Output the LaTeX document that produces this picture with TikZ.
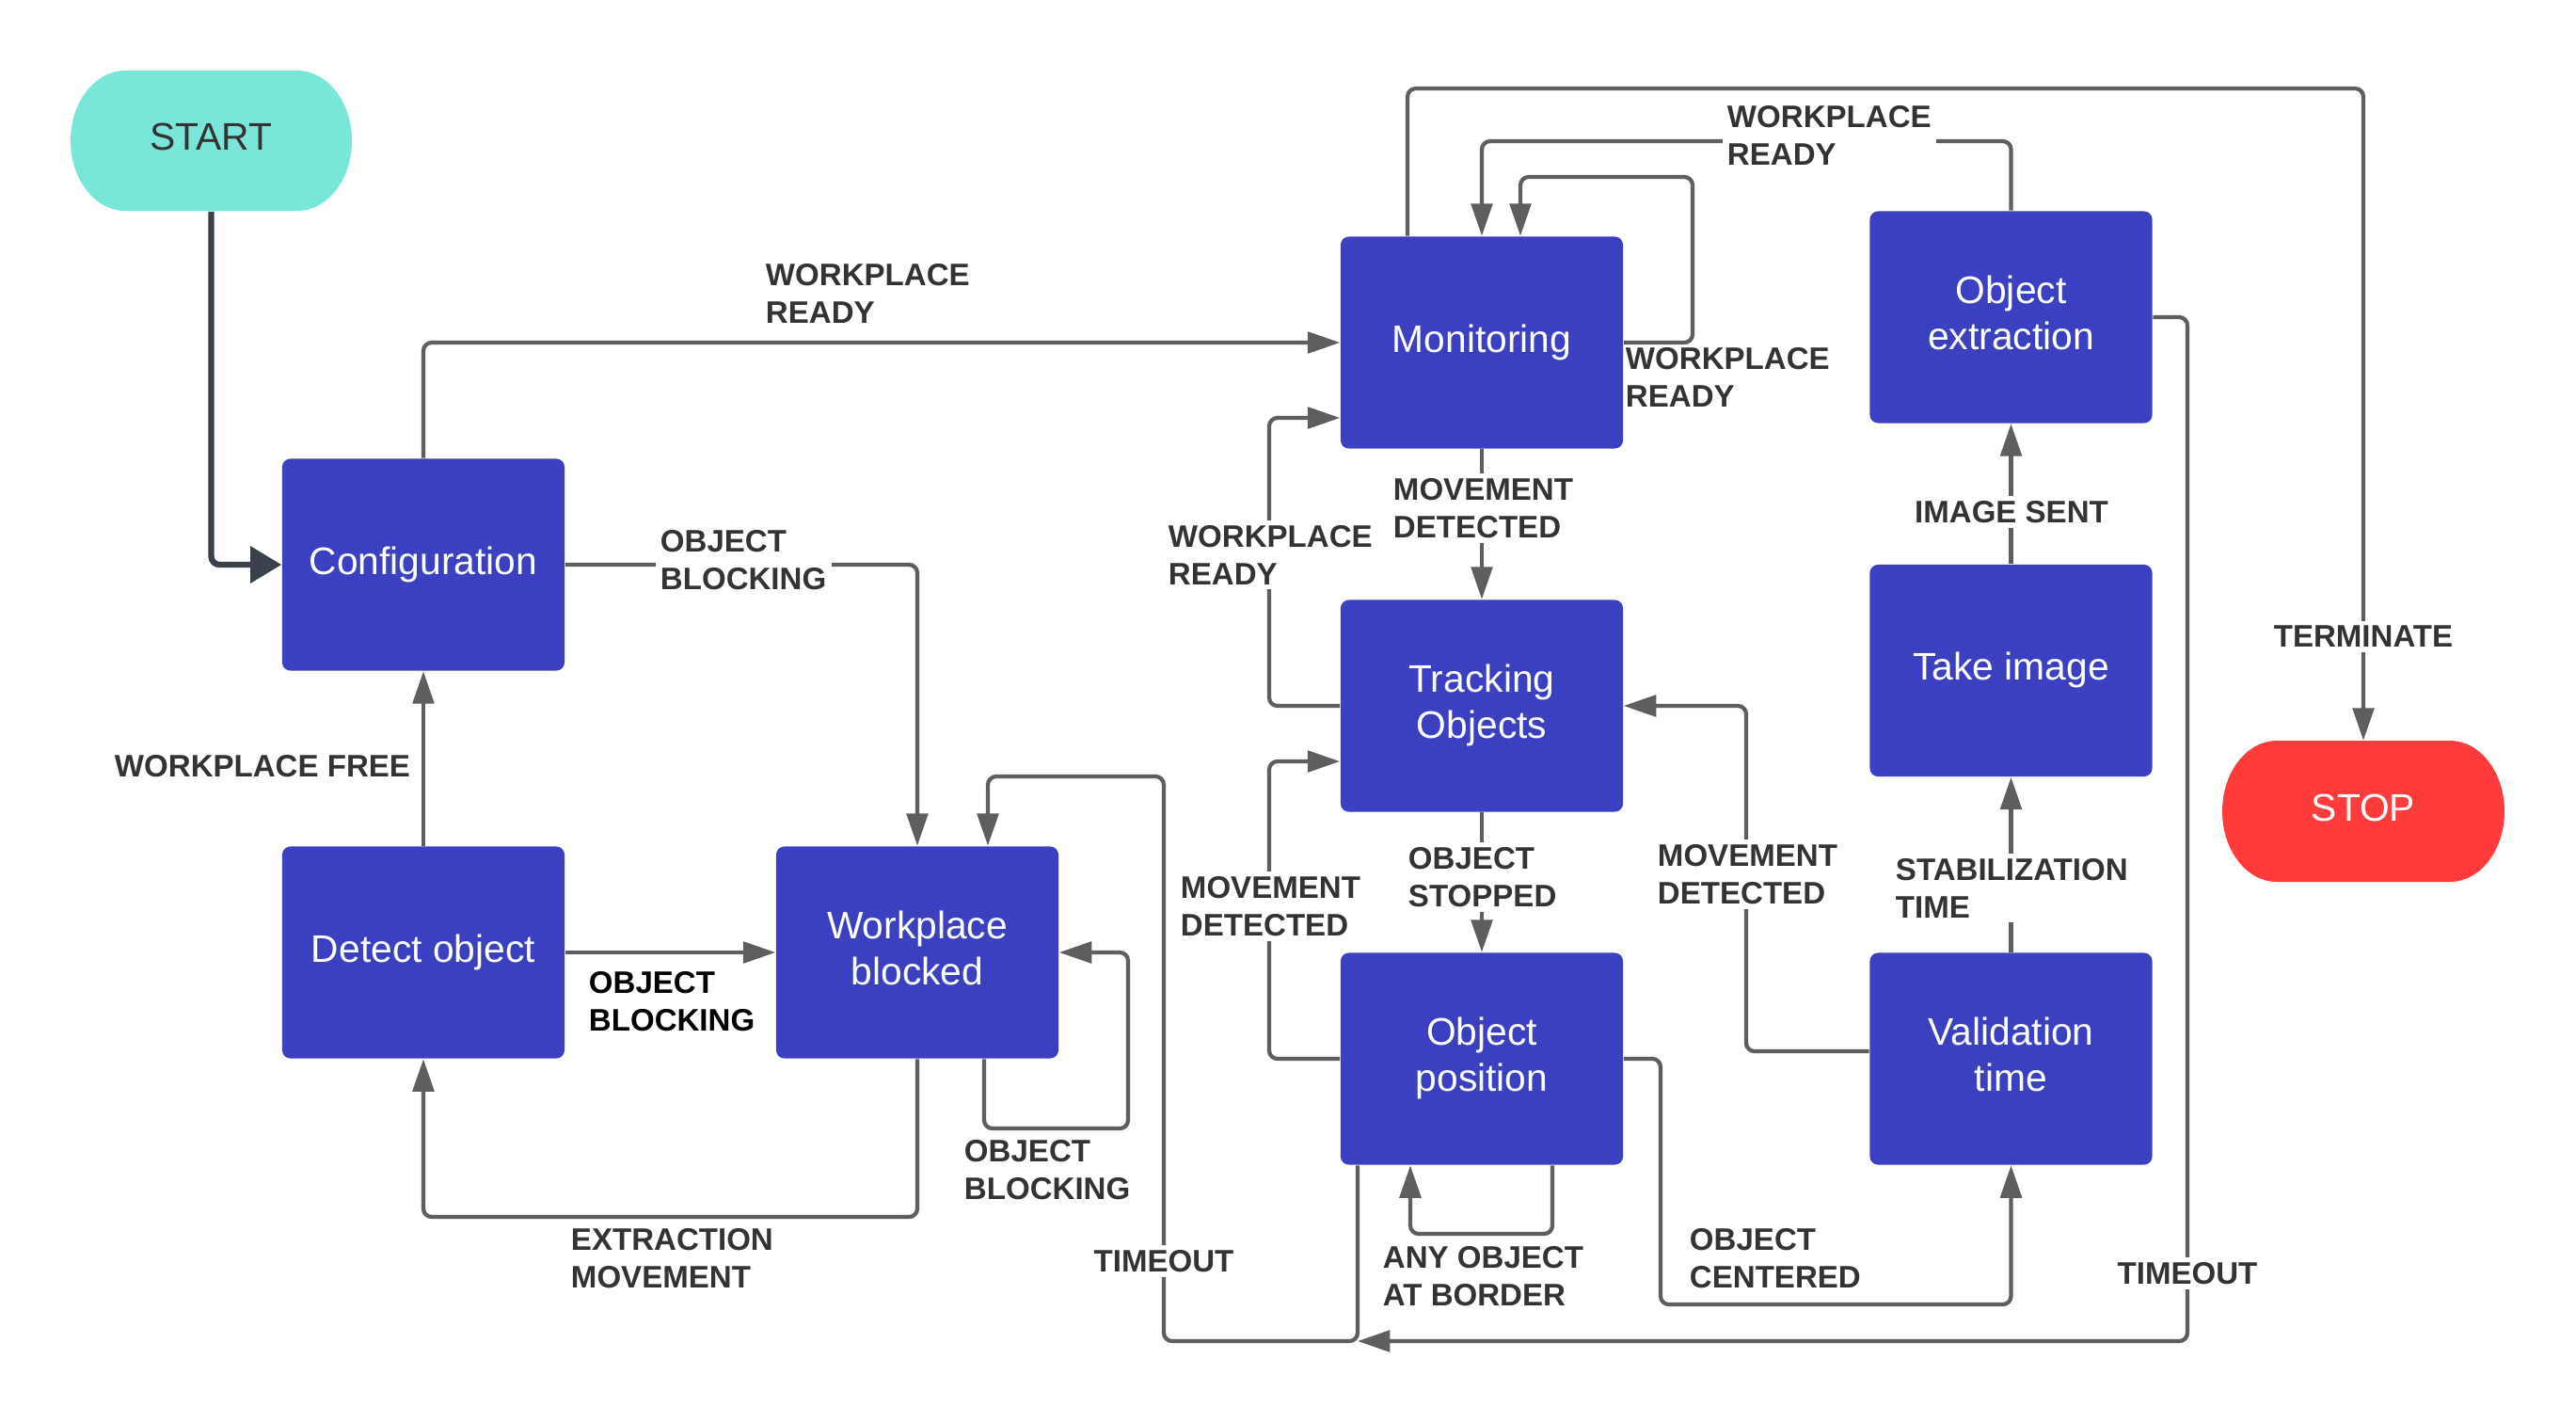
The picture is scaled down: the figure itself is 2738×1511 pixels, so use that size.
\documentclass[tikz,border=0pt]{standalone}
\usepackage{fontspec}
\setmainfont{Liberation Sans}
\usetikzlibrary{arrows.meta,calc}
\definecolor{boxblue}{RGB}{59,64,193}
\definecolor{linegray}{RGB}{94,94,94}
\definecolor{lbltext}{RGB}{51,51,51}
\definecolor{startc}{RGB}{122,230,217}
\definecolor{stopc}{RGB}{255,59,59}
\definecolor{startline}{RGB}{58,65,74}
\begin{document}
\begin{tikzpicture}[x=0.01cm,y=-0.01cm,
  state/.style={fill=boxblue, rounded corners=2.5pt, minimum width=3cm, minimum height=2.25cm,
    text=white, align=center, font=\fontsize{11.6pt}{14.2pt}\selectfont, inner sep=0pt},
  term/.style={minimum width=2.99cm, minimum height=1.49cm, align=center,
    font=\fontsize{11.6pt}{14.2pt}\selectfont, inner sep=0pt},
  conn/.style={draw=linegray, line width=1.2pt, rounded corners=2.5pt,
    -{Triangle[length=9.8pt,width=6.4pt]}},
  lbl/.style={font=\fontsize{9.4pt}{11.4pt}\selectfont\bfseries, text=lbltext, fill=white,
    inner sep=1.5pt, align=left, anchor=north west},
]
\fill[white] (0,0) rectangle (2738,1511);
\useasboundingbox (0,0) rectangle (2738,1511);

% terminal shapes
\fill[startc] (133,75) -- (316,75) .. controls (348,75) and (374,108.4) .. (374,149.5)
  .. controls (374,190.6) and (348,224) .. (316,224) -- (133,224)
  .. controls (101,224) and (75,190.6) .. (75,149.5)
  .. controls (75,108.4) and (101,75) .. (133,75) -- cycle;
\fill[stopc] (2420,787) -- (2604,787) .. controls (2636,787) and (2662,820.6) .. (2662,862)
  .. controls (2662,903.4) and (2636,937) .. (2604,937) -- (2420,937)
  .. controls (2388,937) and (2362,903.4) .. (2362,862)
  .. controls (2362,820.6) and (2388,787) .. (2420,787) -- cycle;
\node[term, text=lbltext] (start) at (224.5,149.5) {START\strut};
\node[term, text=white] (stop) at (2512,862) {STOP\strut};

% states
\node[state] (config) at (450,600) {Configuration\strut};
\node[state] (detect) at (450,1012) {Detect object\strut};
\node[state] (wb) at (975,1012) {Workplace\strut\\blocked\strut};
\node[state] (mon) at (1575,364) {Monitoring\strut};
\node[state] (track) at (1575,750) {Tracking\strut\\Objects\strut};
\node[state] (objpos) at (1575,1125) {Object\strut\\position\strut};
\node[state] (objext) at (2137.5,337) {Object\strut\\extraction\strut};
\node[state] (take) at (2137.5,712.5) {Take image\strut};
\node[state] (valid) at (2137.5,1125) {Validation\strut\\time\strut};

\coordinate (merge) at (1443,1425);

% connectors
\draw[startline, line width=1.8pt, rounded corners=2.5pt,
  -{Triangle[length=9.4pt,width=10.8pt]}] (start.south) |- (config.west);
\draw[conn] (config.north) |- (mon.west);
\draw[conn] (config.east) -| (wb.north);
\draw[conn] (detect.north) -- (config.south);
\draw[conn] (detect.east) -- (wb.west);
\draw[conn] (wb.south) -- (975,1293) -| (detect.south);
\draw[conn] ($(wb.south)+(71,0)$) -- (1046,1199) -- (1199,1199) -- (1199,1012) -- (wb.east);
\draw[conn] ($(objpos.south)+(-132,0)$) -- (merge) -- (1237,1425) -- (1237,825) -- (1050,825) -- ($(wb.north)+(75,0)$);
\draw[conn] (objext.east) -- (2325,337) -- (2325,1425) -- (merge);
\draw[conn] (objpos.west) -- (1349,1125) -- (1349,809) -- ($(track.west)+(0,59)$);
\draw[conn] (track.west) -- (1349,750) -- (1349,444) -- ($(mon.west)+(0,80)$);
\draw[conn] (mon.south) -- (track.north);
\draw[conn] (track.south) -- (objpos.north);
\draw[conn] ($(objpos.south)+(75,0)$) -- (1650,1311) -- (1499,1311) -- ($(objpos.south)+(-76,0)$);
\draw[conn] (objpos.east) -- (1765,1125) -- (1765,1386) -| (valid.south);
\draw[conn] ($(valid.west)+(0,-8)$) -- (1856,1117) -- (1856,750) -- (track.east);
\draw[conn] (valid.north) -- (take.south);
\draw[conn] (take.north) -- (objext.south);
\draw[conn] (objext.north) |- (1575,150) -- (mon.north);
\draw[conn] (mon.east) -- (1799,364) -- (1799,188) -- (1616,188) -- ($(mon.north)+(41,0)$);
\draw[conn] ($(mon.north)+(-79,0)$) -- (1496,94) -| (stop.north);

% labels
\node[lbl] (l1) at (808,274) {WORKPLACE\\READY};
\node[lbl] (l2) at (696,557) {OBJECT\\BLOCKING};
\node[lbl] (l3) at (116,796) {WORKPLACE FREE};
\node[lbl, text=black] (l4) at (620,1026) {OBJECT\\BLOCKING};
\node[lbl] (l5) at (601,1299) {EXTRACTION\\MOVEMENT};
\node[lbl] (l6) at (1019,1205) {OBJECT\\BLOCKING};
\node[lbl, anchor=north] (l7) at (1237,1322) {TIMEOUT};
\node[lbl] (l8) at (1236,552) {WORKPLACE\\READY};
\node[lbl] (l9) at (1475,502) {MOVEMENT\\DETECTED};
\node[lbl, fill=none] (l10) at (1722,363) {WORKPLACE\\READY};
\node[lbl] (l11) at (1830,106) {WORKPLACE\\READY};
\node[lbl] (l12) at (1249,925) {MOVEMENT\\DETECTED};
\node[lbl] (l13) at (1491,894) {OBJECT\\STOPPED};
\node[lbl] (l14) at (1464,1318) {ANY OBJECT\\AT BORDER};
\node[lbl] (l15) at (1756,891) {MOVEMENT\\DETECTED};
\node[lbl] (l16) at (1790,1299) {OBJECT\\CENTERED};
\node[lbl, anchor=north] (l17) at (2138,526) {IMAGE SENT};
\node[lbl] (l18) at (2009,906) {STABILIZATION\\TIME};
\node[lbl, anchor=north] (l19) at (2512,659) {TERMINATE};
\node[lbl, anchor=north] (l20) at (2325,1335) {TIMEOUT};
\end{tikzpicture}
\end{document}
